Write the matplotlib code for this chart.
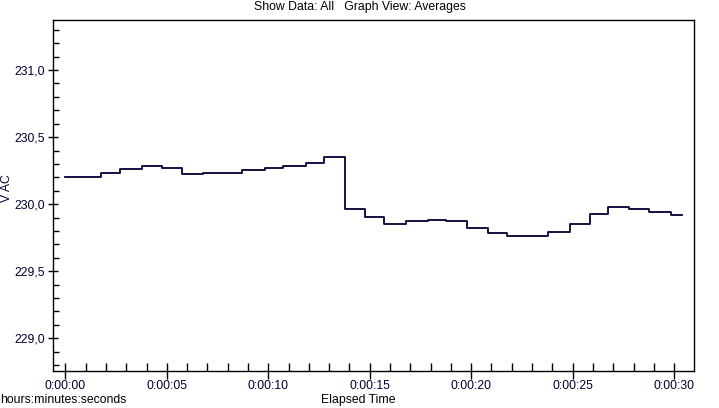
import matplotlib
matplotlib.use("Agg")
import matplotlib.pyplot as plt
from matplotlib.ticker import FixedLocator, MultipleLocator

# Data: step transition times (s) and averaged V AC values
times = [0.0, 1.76, 2.71, 3.80, 4.75, 5.74, 6.80, 8.72, 9.86, 10.74, 11.85,
         12.76, 13.80, 14.79, 15.72, 16.81, 17.86, 18.78, 19.81, 20.85, 21.75,
         23.80, 24.89, 25.83, 26.76, 27.80, 28.78, 29.84]
end_time = 30.38
values = [230.20, 230.23, 230.26, 230.285, 230.27, 230.225, 230.23, 230.255,
          230.27, 230.285, 230.305, 230.35, 229.965, 229.905, 229.85, 229.875,
          229.883, 229.875, 229.82, 229.785, 229.76, 229.79, 229.85, 229.925,
          229.978, 229.963, 229.943, 229.918]

x_ticks = [0, 5, 10, 15, 20, 25, 30]
x_tick_labels = ["0:00:00", "0:00:05", "0:00:10", "0:00:15", "0:00:20", "0:00:25", "0:00:30"]
y_ticks = [229.0, 229.5, 230.0, 230.5, 231.0]
y_tick_labels = ["229,0", "229,5", "230,0", "230,5", "231,0"]

title = "Show Data: All   Graph View: Averages"
ylabel = "V AC"
xlabel = "Elapsed Time"
unit_label = "hours:minutes:seconds"

plt.rcParams['font.family'] = ['Liberation Sans', 'DejaVu Sans']

fig = plt.figure(figsize=(7.19, 4.08), dpi=100)
ax = fig.add_axes([53/719, 1-371/408, (694-53)/719, (371-20)/408])

ax.step(times + [end_time], values + [values[-1]], where='post',
        color='#000033', linewidth=1.3)

ax.set_xlim(-0.61, 30.98)
ax.set_ylim(228.756, 231.373)

ax.xaxis.set_major_locator(FixedLocator(x_ticks))
ax.set_xticklabels(x_tick_labels)
ax.xaxis.set_minor_locator(MultipleLocator(1))
ax.yaxis.set_major_locator(FixedLocator(y_ticks))
ax.set_yticklabels(y_tick_labels)
ax.yaxis.set_minor_locator(MultipleLocator(0.1))

ax.tick_params(axis='x', which='major', direction='inout', length=11, width=1,
               pad=1, labelsize=8.8, labelcolor='#000033', color='black')
ax.tick_params(axis='x', which='minor', direction='in', length=5.5, width=1, color='black')
ax.tick_params(axis='y', which='major', direction='inout', length=7.5, width=1,
               pad=2, labelsize=8.8, labelcolor='#000033', color='black')
ax.tick_params(axis='y', which='minor', direction='in', length=4.2, width=1, color='black')

for s in ['top', 'right', 'left', 'bottom']:
    ax.spines[s].set_linewidth(1.0)
    ax.spines[s].set_color('black')

fig.text(360/719, 1-7/408, title, ha='center', va='center', fontsize=8.8, color='black')
fig.text(7.5/719, 1-188/408, ylabel, ha='center', va='center', rotation=90,
         fontsize=8.8, color='#000033')
fig.text(358/719, 1-400/408, xlabel, ha='center', va='center', fontsize=8.8, color='black')
fig.text(0, 1-400/408, unit_label, ha='left', va='center', fontsize=8.8, color='black')

fig.savefig("out.png", dpi=100)
